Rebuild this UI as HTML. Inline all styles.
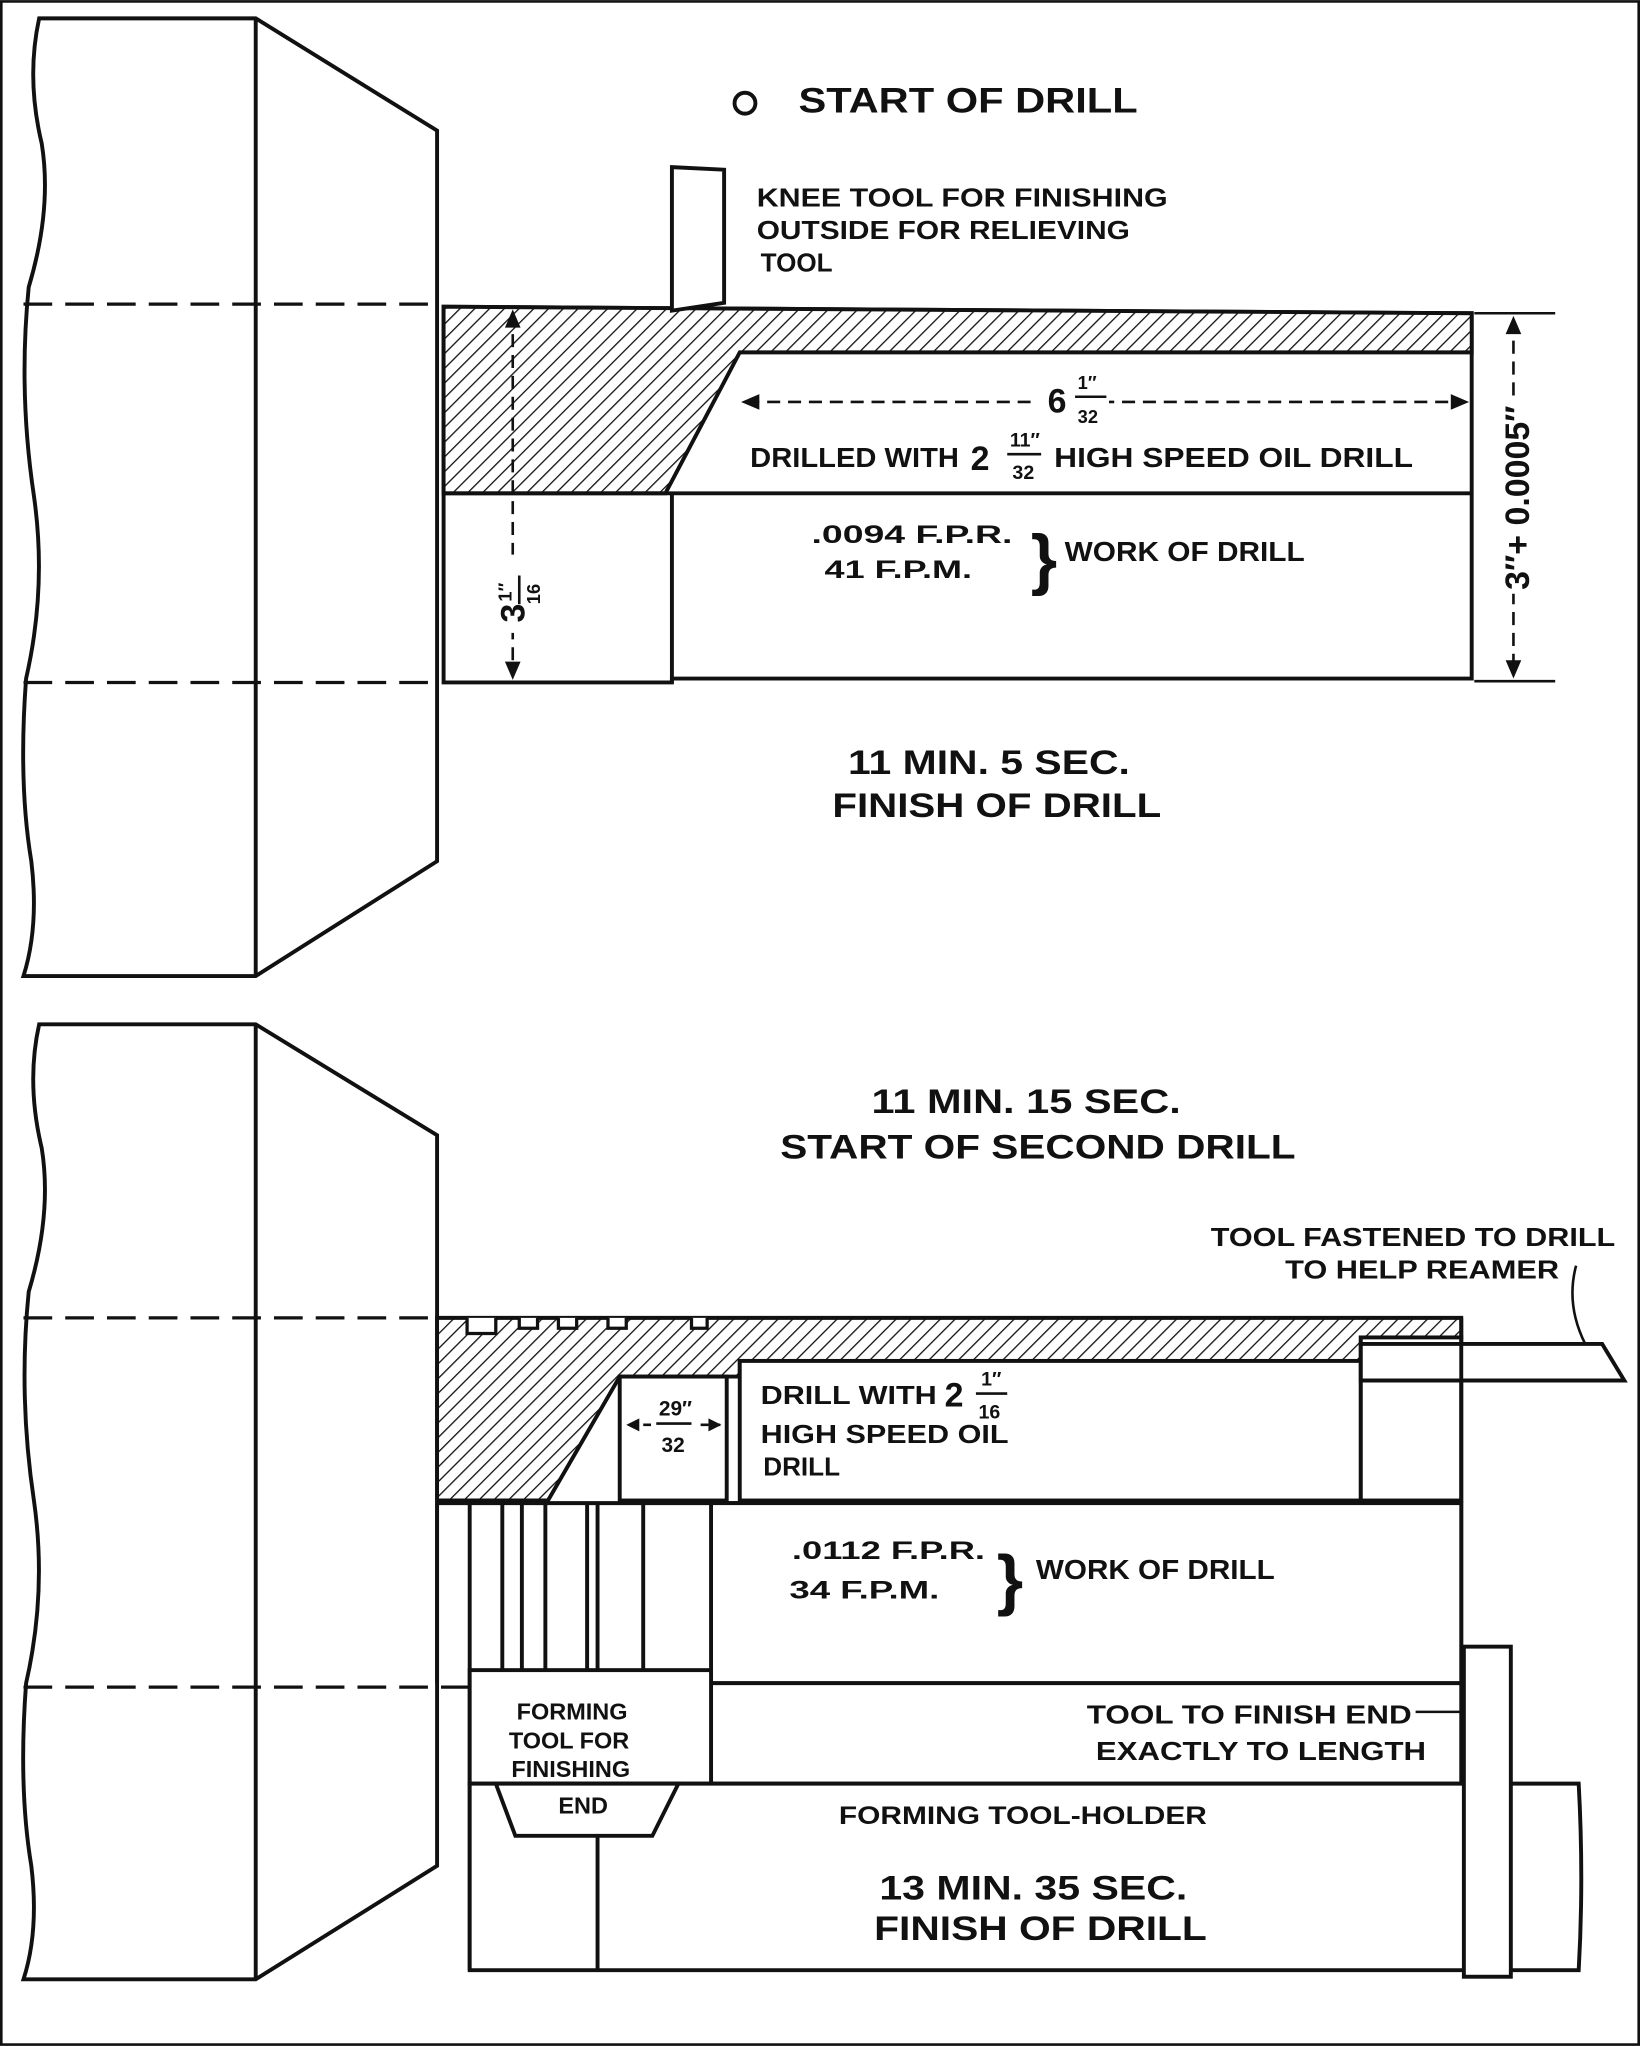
<!DOCTYPE html>
<html><head><meta charset="utf-8"><style>
html,body{margin:0;padding:0;background:#fff;}
svg{display:block;}
text{font-family:"Liberation Sans",sans-serif;font-weight:bold;fill:#111;}
</style></head><body>
<svg width="1640" height="2046" viewBox="0 0 1257 1568" xmlns="http://www.w3.org/2000/svg">
<defs>
<pattern id="h" patternUnits="userSpaceOnUse" width="8" height="8" patternTransform="rotate(45)">
<rect width="8" height="8" fill="#fff"/><line x1="0" y1="0" x2="0" y2="8" stroke="#111" stroke-width="2"/>
</pattern>
</defs>
<rect x="1" y="1" width="1255" height="1566" fill="#fff" stroke="#111" stroke-width="2"/>
<g stroke="#111" fill="none" stroke-width="3">
<path d="M30,14 Q20,60 32,110 Q40,160 22,220 Q14,300 26,380 Q36,450 20,520 Q14,600 24,660 Q30,710 18,748 L196,748 L335,660 L335,100 L196,14 Z"/>
<line x1="196" y1="14" x2="196" y2="748"/>
<path d="M340,235 L1128,240 L1128,520 L515,520 L515,523 L340,523 Z"/>
</g>
<path d="M340,235 L1128,240 L1128,270 L567,270 L510,378 L340,378 Z" fill="url(#h)" stroke="#111" stroke-width="3"/>
<g stroke="#111" stroke-width="3" fill="none">
<line x1="340" y1="378" x2="1128" y2="378"/>
<line x1="515" y1="378" x2="515" y2="523"/>
<path d="M515,128 L555,130 L555,232 L515,238 Z" fill="#fff"/>
</g>
<g stroke="#111" stroke-width="2.5" stroke-dasharray="22,10">
<line x1="18" y1="233" x2="335" y2="233"/>
<line x1="18" y1="523" x2="335" y2="523"/>
</g>
<g stroke="#111" stroke-width="2" stroke-dasharray="10,6" fill="none">
<line x1="393" y1="240" x2="393" y2="518"/>
<line x1="572" y1="308" x2="1122" y2="308"/>
<line x1="1160" y1="245" x2="1160" y2="516"/>
</g>
<g stroke="#111" stroke-width="2">
<line x1="1130" y1="240" x2="1192" y2="240"/>
<line x1="1130" y1="522" x2="1192" y2="522"/>
</g>
<g fill="#111">
<path d="M393,237 l-6,14 h12z"/><path d="M393,521 l-6,-14 h12z"/>
<path d="M568,308 l14,-6 v12z"/><path d="M1126,308 l-14,-6 v12z"/>
<path d="M1160,242 l-6,14 h12z"/><path d="M1160,520 l-6,-14 h12z"/>
</g>
<circle cx="571" cy="79" r="8" fill="none" stroke="#111" stroke-width="3"/>
<text x="612" y="86" font-size="27" textLength="260" lengthAdjust="spacingAndGlyphs">START OF DRILL</text>
<text x="580" y="158" font-size="20" textLength="315" lengthAdjust="spacingAndGlyphs">KNEE TOOL FOR FINISHING</text>
<text x="580" y="183" font-size="20" textLength="286" lengthAdjust="spacingAndGlyphs">OUTSIDE FOR RELIEVING</text>
<text x="583" y="208" font-size="20">TOOL</text>
<rect x="790" y="290" width="60" height="40" fill="#fff"/>
<text x="803" y="316" font-size="26" font-family="Liberation Serif">6</text>
<text x="826" y="298" font-size="14">1″</text>
<line x1="824" y1="304" x2="848" y2="304" stroke="#111" stroke-width="2"/>
<text x="826" y="324" font-size="14">32</text>
<text x="575" y="358" font-size="21" textLength="160" lengthAdjust="spacingAndGlyphs">DRILLED WITH</text>
<text x="744" y="360" font-size="26" font-family="Liberation Serif">2</text>
<text x="774" y="342" font-size="15">11″</text>
<line x1="772" y1="348" x2="798" y2="348" stroke="#111" stroke-width="2"/>
<text x="776" y="367" font-size="15">32</text>
<text x="808" y="358" font-size="21" textLength="275" lengthAdjust="spacingAndGlyphs">HIGH SPEED OIL DRILL</text>
<text x="622" y="416" font-size="19" textLength="154" lengthAdjust="spacingAndGlyphs">.0094 F.P.R.</text>
<text x="632" y="443" font-size="19" textLength="113" lengthAdjust="spacingAndGlyphs">41 F.P.M.</text>
<text x="790" y="446" font-size="52" font-weight="normal">}</text>
<text x="816" y="430" font-size="21" textLength="184" lengthAdjust="spacingAndGlyphs">WORK OF DRILL</text>
<g transform="translate(402,455) rotate(-90)"><rect x="-30" y="-26" width="60" height="36" fill="#fff"/>
<text x="-22" y="0" font-size="26" font-family="Liberation Serif">3</text><text x="-6" y="-10" font-size="14">1″</text>
<line x1="-8" y1="-4" x2="14" y2="-4" stroke="#111" stroke-width="2"/><text x="-8" y="12" font-size="14">16</text></g>
<g transform="translate(1172,380) rotate(-90)"><rect x="-75" y="-22" width="150" height="30" fill="#fff"/>
<text x="-72" y="0" font-size="26" font-family="Liberation Serif">3″+ 0.0005″</text></g>
<text x="650" y="593" font-size="26" textLength="216" lengthAdjust="spacingAndGlyphs">11 MIN. 5 SEC.</text>
<text x="638" y="626" font-size="26" textLength="252" lengthAdjust="spacingAndGlyphs">FINISH OF DRILL</text>

<g stroke="#111" fill="none" stroke-width="3">
<path d="M30,785 Q20,830 32,880 Q40,930 22,990 Q14,1070 26,1150 Q36,1220 20,1290 Q14,1370 24,1430 Q30,1480 18,1517 L196,1517 L335,1430 L335,870 L196,785 Z"/>
<line x1="196" y1="785" x2="196" y2="1517"/>
</g>
<path d="M335,1010 L1120,1010 L1120,1025 L1043,1025 L1043,1043 L567,1043 L567,1055 L475,1055 L420,1150 L335,1150 Z" fill="url(#h)" stroke="#111" stroke-width="3"/>
<g fill="#fff" stroke="#111" stroke-width="2.5">
<path d="M358,1010 v12 h22 v-12"/><path d="M398,1010 v8 h14 v-8"/><path d="M428,1010 v8 h14 v-8"/><path d="M466,1010 v8 h14 v-8"/><path d="M530,1010 v8 h12 v-8"/>
</g>
<g stroke="#111" stroke-width="3" fill="#fff">
<rect x="475" y="1055" width="82" height="95"/>
<rect x="567" y="1043" width="476" height="107"/>
<rect x="1043" y="1025" width="77" height="125"/>
<path d="M1043,1030 L1228,1030 L1245,1058 L1043,1058 Z"/>
<line x1="1120" y1="1010" x2="1120" y2="1290"/>
<line x1="335" y1="1152" x2="1120" y2="1152"/>
<rect x="545" y="1152" width="575" height="138"/>
<rect x="545" y="1290" width="575" height="77"/>
<line x1="360" y1="1152" x2="360" y2="1510"/>
<line x1="385" y1="1152" x2="385" y2="1290"/><line x1="400" y1="1152" x2="400" y2="1290"/>
<line x1="418" y1="1152" x2="418" y2="1290"/><line x1="450" y1="1152" x2="450" y2="1290"/>
<line x1="458" y1="1152" x2="458" y2="1290"/><line x1="493" y1="1152" x2="493" y2="1290"/>
<line x1="335" y1="1152" x2="335" y2="1290"/>
<rect x="360" y="1280" width="185" height="87"/>
<path d="M360,1367 L1210,1367 Q1214,1440 1210,1510 L360,1510 Z"/>
<line x1="458" y1="1367" x2="458" y2="1510"/>
<path d="M380,1367 L520,1367 L500,1407 L395,1407 Z" fill="#fff"/>
<rect x="1122" y="1262" width="36" height="253"/>
</g>
<path d="M1208,970 Q1200,1000 1215,1030" stroke="#111" stroke-width="2" fill="none"/>
<path d="M1085,1312 L1120,1312" stroke="#111" stroke-width="2"/>
<g stroke="#111" stroke-width="2.5" stroke-dasharray="22,10">
<line x1="18" y1="1010" x2="335" y2="1010"/>
<line x1="18" y1="1293" x2="360" y2="1293"/>
</g>
<g stroke="#111" stroke-width="2" stroke-dasharray="6,5"><line x1="482" y1="1092" x2="552" y2="1092"/></g>
<path d="M480,1092 l10,-5 v10z M553,1092 l-10,-5 v10z" fill="#111"/>
<rect x="500" y="1068" width="34" height="52" fill="#fff"/>
<text x="505" y="1085" font-size="16">29″</text>
<line x1="503" y1="1091" x2="530" y2="1091" stroke="#111" stroke-width="2"/>
<text x="507" y="1113" font-size="16">32</text>
<text x="668" y="853" font-size="26" textLength="237" lengthAdjust="spacingAndGlyphs">11 MIN. 15 SEC.</text>
<text x="598" y="888" font-size="26" textLength="395" lengthAdjust="spacingAndGlyphs">START OF SECOND DRILL</text>
<text x="928" y="955" font-size="20" textLength="310" lengthAdjust="spacingAndGlyphs">TOOL FASTENED TO DRILL</text>
<text x="985" y="980" font-size="20" textLength="210" lengthAdjust="spacingAndGlyphs">TO HELP REAMER</text>
<text x="583" y="1076" font-size="20" textLength="135" lengthAdjust="spacingAndGlyphs">DRILL WITH</text>
<text x="724" y="1078" font-size="26" font-family="Liberation Serif">2</text>
<text x="752" y="1062" font-size="15">1″</text>
<line x1="748" y1="1068" x2="772" y2="1068" stroke="#111" stroke-width="2"/>
<text x="750" y="1087" font-size="15">16</text>
<text x="583" y="1106" font-size="20" textLength="190" lengthAdjust="spacingAndGlyphs">HIGH SPEED OIL</text>
<text x="585" y="1131" font-size="20">DRILL</text>
<text x="607" y="1195" font-size="19" textLength="148" lengthAdjust="spacingAndGlyphs">.0112 F.P.R.</text>
<text x="605" y="1225" font-size="19" textLength="115" lengthAdjust="spacingAndGlyphs">34 F.P.M.</text>
<text x="764" y="1228" font-size="52" font-weight="normal">}</text>
<text x="794" y="1210" font-size="21" textLength="183" lengthAdjust="spacingAndGlyphs">WORK OF DRILL</text>
<text x="833" y="1321" font-size="20" textLength="249" lengthAdjust="spacingAndGlyphs">TOOL TO FINISH END</text>
<text x="840" y="1349" font-size="20" textLength="253" lengthAdjust="spacingAndGlyphs">EXACTLY TO LENGTH</text>
<text x="396" y="1318" font-size="18">FORMING</text>
<text x="390" y="1340" font-size="18">TOOL FOR</text>
<text x="392" y="1362" font-size="18">FINISHING</text>
<text x="428" y="1390" font-size="18">END</text>
<text x="643" y="1398" font-size="19" textLength="282" lengthAdjust="spacingAndGlyphs">FORMING TOOL-HOLDER</text>
<text x="674" y="1456" font-size="26" textLength="236" lengthAdjust="spacingAndGlyphs">13 MIN. 35 SEC.</text>
<text x="670" y="1487" font-size="26" textLength="255" lengthAdjust="spacingAndGlyphs">FINISH OF DRILL</text>
</svg>
</body></html>
